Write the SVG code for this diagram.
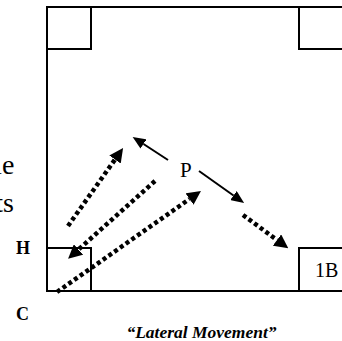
<svg xmlns="http://www.w3.org/2000/svg" width="342" height="341" viewBox="0 0 342 341">
<defs>
<style>
.ln{fill:none;stroke:#000;stroke-width:2;stroke-linecap:square}
.box{fill:none;stroke:#000;stroke-width:2}
.dot{fill:none;stroke:#000;stroke-width:4.5;stroke-dasharray:4 3;marker-end:url(#hd)}
.sol{fill:none;stroke:#000;stroke-width:2;marker-end:url(#hs)}
.t{font-family:"Liberation Serif","Times New Roman",serif;fill:#000}
</style>
<marker id="hd" markerUnits="userSpaceOnUse" markerWidth="14" markerHeight="14" refX="0" refY="7" orient="auto" viewBox="0 0 14 14">
<path d="M0,0 L14,7 L0,14 z" fill="#000"/>
</marker>
<marker id="hs" markerUnits="userSpaceOnUse" markerWidth="13" markerHeight="11" refX="0" refY="5.5" orient="auto" viewBox="0 0 13 11">
<path d="M0,0 L13,5.5 L0,11 z" fill="#000"/>
</marker>
</defs>
<rect width="342" height="341" fill="#fff"/>
<g id="field">
<path class="ln" d="M346,7 H47 V291 H346"/>
</g>
<g id="box-tl"><path class="box" d="M47,49 H91 V7"/></g>
<g id="box-tr"><path class="box" d="M346,49 H299 V7"/></g>
<g id="box-h"><path class="box" d="M47,248 H91 V291"/></g>
<g id="box-1b"><path class="box" d="M346,248 H299 V291"/><text class="t" x="315" y="277" font-size="20">1B</text></g>
<g id="node-p"><text class="t" x="180" y="177" font-size="21">P</text></g>
<g id="label-h"><text class="t" x="16" y="254" font-size="18" font-weight="bold">H</text></g>
<g id="label-c"><text class="t" x="16" y="320" font-size="18" font-weight="bold">C</text></g>
<g id="side-text">
<text class="t" x="14.5" y="174" font-size="28" text-anchor="end">le</text>
<text class="t" x="14" y="212" font-size="28" text-anchor="end">ts</text>
</g>
<g id="caption"><text class="t" x="201.5" y="338" font-size="17.5" font-style="italic" font-weight="bold" text-anchor="middle">“Lateral Movement”</text></g>
<g id="connectors">
<line class="sol" x1="168" y1="160" x2="143.5" y2="144"/>
<line class="sol" x1="199" y1="171" x2="233.5" y2="195.5"/>
<line class="dot" x1="68" y1="226" x2="115" y2="159.5"/>
<line class="dot" x1="155" y1="181" x2="78.5" y2="249.5"/>
<line class="dot" x1="57" y1="292" x2="189.5" y2="199"/>
<line class="dot" x1="243" y1="215" x2="277" y2="240"/>
</g>
</svg>
